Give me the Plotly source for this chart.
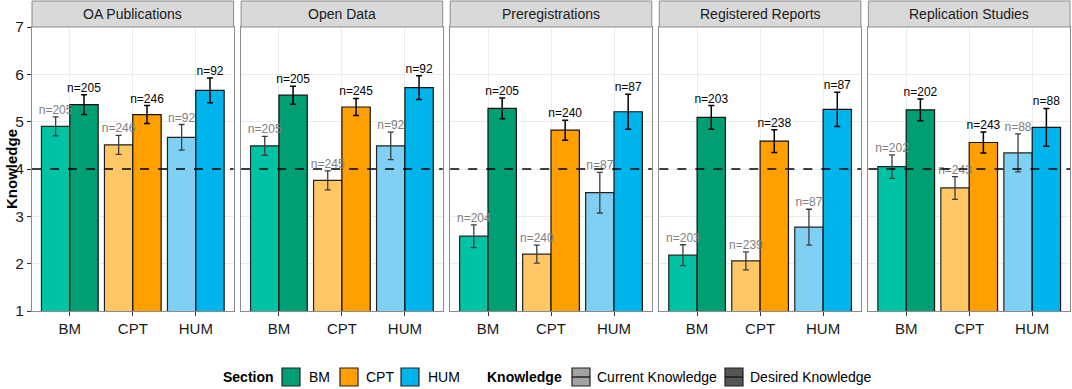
import plotly.graph_objects as go

# ---------------- data ----------------
panels = ["OA Publications", "Open Data", "Preregistrations", "Registered Reports", "Replication Studies"]
sections = ["BM", "CPT", "HUM"]
y_ticks = [1, 2, 3, 4, 5, 6, 7]
threshold = 4

current_mean = [[4.90, 4.51, 4.67], [4.49, 3.76, 4.49], [2.58, 2.20, 3.50], [2.18, 2.06, 2.77], [4.05, 3.60, 4.34]]
current_se = [[0.20, 0.20, 0.27], [0.20, 0.20, 0.29], [0.24, 0.19, 0.43], [0.22, 0.19, 0.38], [0.25, 0.24, 0.40]]
current_n = [[205, 246, 92], [205, 245, 92], [204, 240, 87], [203, 239, 87], [202, 243, 88]]

desired_mean = [[5.36, 5.15, 5.66], [5.56, 5.31, 5.72], [5.28, 4.82, 5.21], [5.09, 4.59, 5.26], [5.25, 4.56, 4.88]]
desired_se = [[0.21, 0.19, 0.26], [0.19, 0.18, 0.25], [0.22, 0.21, 0.37], [0.25, 0.24, 0.36], [0.23, 0.22, 0.40]]
desired_n = [[205, 246, 92], [205, 245, 92], [205, 240, 87], [203, 238, 87], [202, 243, 88]]

# ---------------- styles ----------------
current_colors = ["#00C3A5", "#FFC766", "#7FD0F2"]
desired_colors = ["#009E73", "#FFA000", "#00B4EC"]
FONT = "Liberation Sans, Arial, sans-serif"

W, H = 1072, 389
ML, MR, MT, MB = 32, 2, 27, 78
PW = W - ML - MR
PH = H - MT - MB
panel_w = 201.6
gap = (PW - 5 * panel_w) / 4
bar_w = 0.45
dodge = bar_w / 2


def px_x(px):
    return (px - ML) / PW


def px_y(py):
    return (H - MB - py) / PH


fig = go.Figure()
shapes = []
annotations = []

for p, name in enumerate(panels):
    ax = "" if p == 0 else str(p + 1)
    xa, ya = "x" + ax, "y" + ax
    x_idx = list(range(len(sections)))
    xc = [i - dodge for i in x_idx]
    xd = [i + dodge for i in x_idx]

    fig.add_trace(go.Bar(
        x=xc, y=current_mean[p], width=bar_w, xaxis=xa, yaxis=ya,
        marker=dict(color=current_colors, line=dict(color="#222222", width=1.2)),
        error_y=dict(type="data", array=current_se[p], color="#3C3C3C", thickness=1.3, width=3),
        showlegend=False, hoverinfo="skip"))
    fig.add_trace(go.Bar(
        x=xd, y=desired_mean[p], width=bar_w, xaxis=xa, yaxis=ya,
        marker=dict(color=desired_colors, line=dict(color="#111111", width=1.2)),
        error_y=dict(type="data", array=desired_se[p], color="#000000", thickness=1.5, width=3),
        showlegend=False, hoverinfo="skip"))

    fig.add_trace(go.Scatter(
        x=xc, y=[m + s for m, s in zip(current_mean[p], current_se[p])], xaxis=xa, yaxis=ya,
        mode="text", text=[f"n={n}" for n in current_n[p]], textposition="top center",
        textfont=dict(family=FONT, size=12, color="#808080"),
        showlegend=False, hoverinfo="skip", cliponaxis=False))
    fig.add_trace(go.Scatter(
        x=xd, y=[m + s for m, s in zip(desired_mean[p], desired_se[p])], xaxis=xa, yaxis=ya,
        mode="text", text=[f"n={n}" for n in desired_n[p]], textposition="top center",
        textfont=dict(family=FONT, size=12, color="#000000"),
        showlegend=False, hoverinfo="skip", cliponaxis=False))

    x0 = ML + p * (panel_w + gap)
    d0, d1 = px_x(x0), px_x(x0 + panel_w)
    fig.update_layout(**{
        ("xaxis" + ax): dict(
            domain=[d0, d1], anchor=ya, range=[-0.6, 2.6], automargin=False,
            tickvals=x_idx, ticktext=sections, showgrid=True, gridcolor="#EBEBEB", gridwidth=1,
            zeroline=False, showline=True, mirror=True, linecolor="#8C8C8C", linewidth=1,
            ticks="outside", ticklen=4, tickcolor="#333333",
            tickfont=dict(family=FONT, size=15, color="#1A1A1A")),
        ("yaxis" + ax): dict(
            domain=[0, 1], anchor=xa, range=[1, 7], tickvals=y_ticks, automargin=False,
            showgrid=True, gridcolor="#EBEBEB", gridwidth=1, zeroline=False,
            showline=True, mirror=True, linecolor="#8C8C8C", linewidth=1,
            ticks="outside" if p == 0 else "", ticklen=4, tickcolor="#333333",
            showticklabels=(p == 0),
            tickfont=dict(family=FONT, size=15.5, color="#1A1A1A")),
    })

    # threshold line
    shapes.append(dict(type="line", xref=xa + " domain", yref=ya, x0=0, x1=1, y0=threshold, y1=threshold,
                       line=dict(color="#000000", width=1.3, dash="dash"), layer="above"))
    # strip
    shapes.append(dict(type="rect", xref="paper", yref="paper", x0=d0, x1=d1, y0=1, y1=px_y(1),
                       fillcolor="#D9D9D9", line=dict(color="#8C8C8C", width=1)))
    annotations.append(dict(text=name, xref="paper", yref="paper", x=(d0 + d1) / 2, y=(1 + px_y(1)) / 2,
                            xanchor="center", yanchor="middle", showarrow=False,
                            font=dict(family=FONT, size=14, color="#1A1A1A")))

# y-axis title
annotations.append(dict(text="<b>Knowledge</b>", xref="paper", yref="paper", x=px_x(11), y=0.5,
                        textangle=-90, showarrow=False, xanchor="center", yanchor="middle",
                        font=dict(family=FONT, size=15, color="#000000")))

# ---------------- legend (manual) ----------------
ly = 377
box = 18


def legend_text(txt, x_left, bold=False):
    annotations.append(dict(text=f"<b>{txt}</b>" if bold else txt, xref="paper", yref="paper",
                            x=px_x(x_left), y=px_y(ly), xanchor="left", yanchor="middle", showarrow=False,
                            font=dict(family=FONT, size=14, color="#000000")))


def legend_box(x_left, fill, midline=False):
    shapes.append(dict(type="rect", xref="paper", yref="paper", x0=px_x(x_left), x1=px_x(x_left + box),
                       y0=px_y(ly + box / 2), y1=px_y(ly - box / 2), fillcolor=fill,
                       line=dict(color="#222222", width=1.2)))
    if midline:
        shapes.append(dict(type="line", xref="paper", yref="paper", x0=px_x(x_left), x1=px_x(x_left + box),
                           y0=px_y(ly), y1=px_y(ly), line=dict(color="#111111", width=1.3)))


legend_text("Section", 221, bold=True)
legend_box(282, desired_colors[0]); legend_text("BM", 307)
legend_box(340, desired_colors[1]); legend_text("CPT", 364)
legend_box(401, desired_colors[2]); legend_text("HUM", 426)
legend_text("Knowledge", 485, bold=True)
legend_box(572, "#A3A3A3", midline=True); legend_text("Current Knowledge", 595)
legend_box(725, "#555555", midline=True); legend_text("Desired Knowledge", 748)

fig.update_layout(
    width=W, height=H,
    margin=dict(l=ML, r=MR, t=MT, b=MB, pad=0),
    paper_bgcolor="white", plot_bgcolor="white",
    barmode="overlay", showlegend=False,
    shapes=shapes, annotations=annotations,
    font=dict(family=FONT),
)

fig.write_html("out.html", config={"displayModeBar": False},
               post_script="document.body.style.margin='0';document.body.style.overflow='hidden';")
